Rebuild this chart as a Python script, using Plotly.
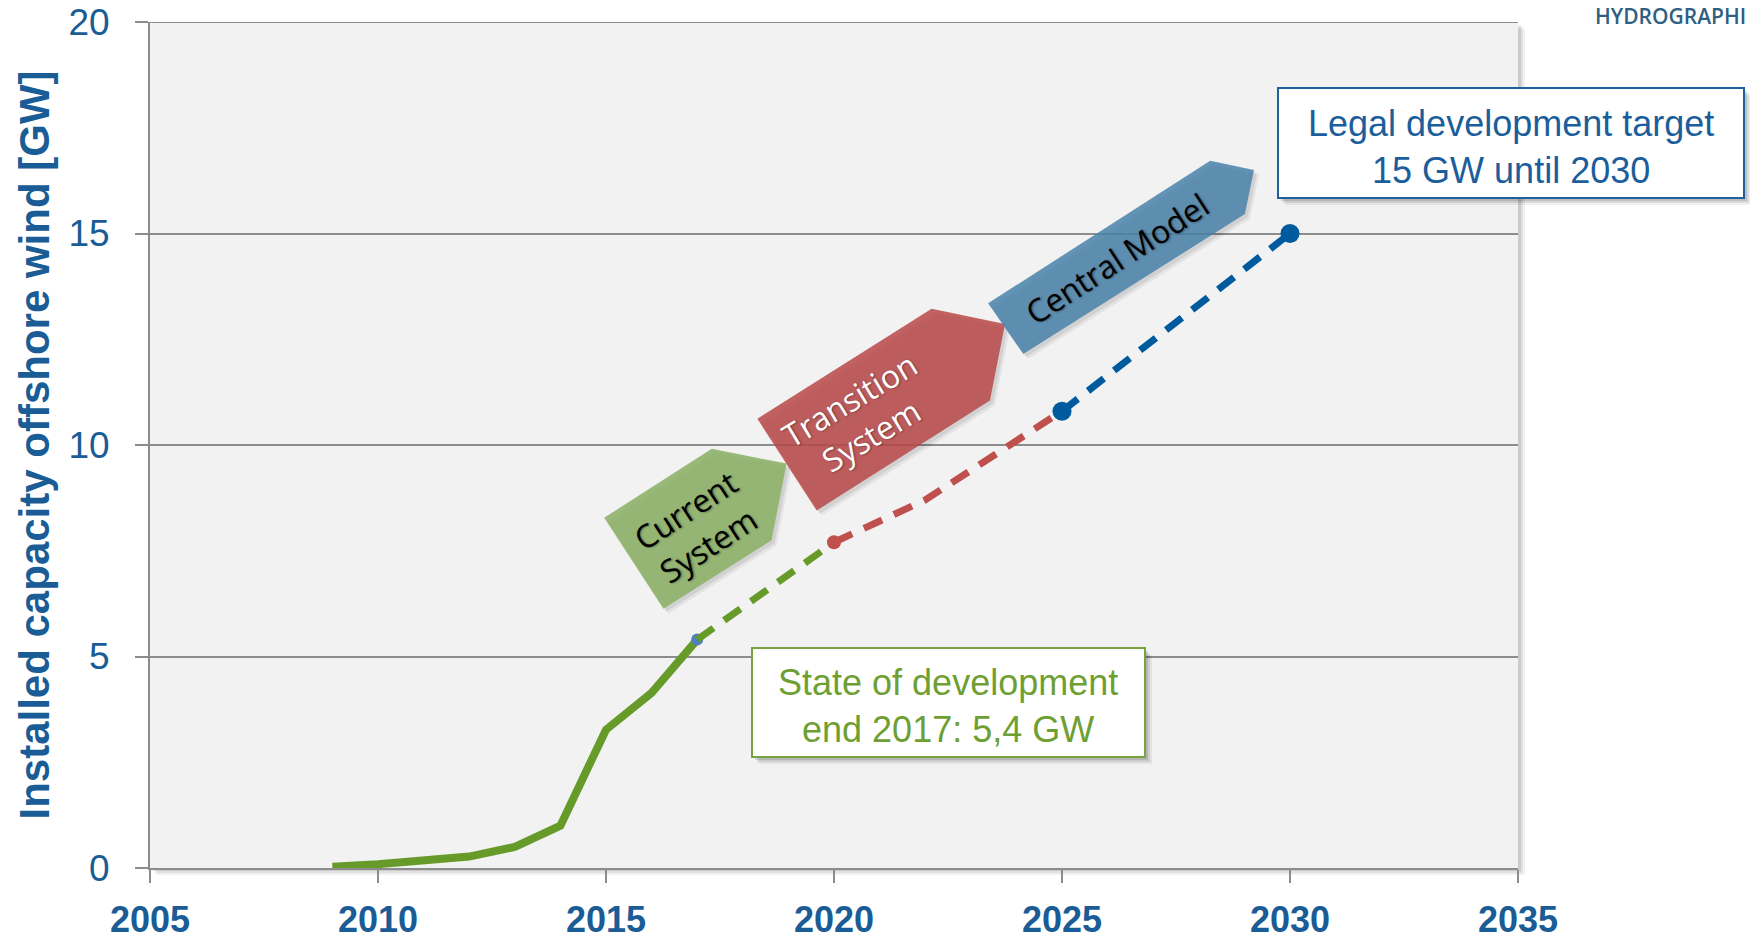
import plotly.graph_objects as go

# ---------------- data ----------------
years_actual = [2009, 2010, 2012, 2013, 2014, 2015, 2016, 2017]
gw_actual = [0.03, 0.09, 0.27, 0.50, 1.00, 3.27, 4.14, 5.40]

years_current = [2017, 2020]
gw_current = [5.40, 7.70]

years_transition = [2020, 2022, 2025]
gw_transition = [7.70, 8.70, 10.80]

years_central = [2025, 2030]
gw_central = [10.80, 15.00]

x_ticks = [2005, 2010, 2015, 2020, 2025, 2030, 2035]
y_ticks = [0, 5, 10, 15, 20]

# arrow-shaped labels (vertices in year / GW units)
arrow_current = [(2014.96, 8.28), (2017.32, 9.91), (2018.96, 9.56), (2018.63, 7.75), (2016.26, 6.13)]
arrow_transition = [(2018.32, 10.62), (2022.14, 13.22), (2023.75, 12.86), (2023.42, 11.05), (2019.62, 8.45)]
arrow_central = [(2023.38, 13.35), (2028.25, 16.72), (2029.21, 16.50), (2029.01, 15.46), (2024.15, 12.15)]

# ---------------- geometry ----------------
W, H = 1750, 942
ML, MR, MT, MB = 150, 232, 22, 74
PW, PH = W - ML - MR, H - MT - MB
X_RANGE = [2005, 2035]
Y_RANGE = [0, 20]
PX_PER_YEAR = PW / (X_RANGE[1] - X_RANGE[0])
PX_PER_GW = PH / (Y_RANGE[1] - Y_RANGE[0])


def px_x(px):
    return (px - ML) / PW


def px_y(py):
    return (H - MB - py) / PH


BLUE_TXT = "#1A5C96"
GRID = "#8C8C8C"

fig = go.Figure()

fig.add_trace(go.Scatter(x=years_actual, y=gw_actual, mode="lines",
                         line=dict(color="#679B29", width=8), hoverinfo="skip"))
fig.add_trace(go.Scatter(x=[years_actual[-1]], y=[gw_actual[-1]], mode="markers",
                         marker=dict(color="#4F81BD", size=12), hoverinfo="skip"))
fig.add_trace(go.Scatter(x=years_current, y=gw_current, mode="lines",
                         line=dict(color="#679B29", width=7, dash="20px,13px"), hoverinfo="skip"))
fig.add_trace(go.Scatter(x=years_transition, y=gw_transition, mode="lines",
                         line=dict(color="#C0504D", width=7, dash="20px,13px"), hoverinfo="skip"))
fig.add_trace(go.Scatter(x=[years_transition[0]], y=[gw_transition[0]], mode="markers",
                         marker=dict(color="#C0504D", size=14), hoverinfo="skip"))
fig.add_trace(go.Scatter(x=years_central, y=gw_central, mode="lines+markers",
                         line=dict(color="#005A9E", width=7, dash="20px,13px"),
                         marker=dict(color="#005A9E", size=19), hoverinfo="skip"))

shapes = []

# plot area shadow + background
for off, a in [(7, 0.05), (5, 0.07), (3, 0.09)]:
    shapes.append(dict(type="rect", xref="paper", yref="paper", layer="below",
                       x0=px_x(ML + off), x1=px_x(ML + PW + off),
                       y0=px_y(MT + off), y1=px_y(MT + PH + off),
                       line=dict(width=0), fillcolor=f"rgba(0,0,0,{a})"))
shapes.append(dict(type="rect", xref="paper", yref="paper", layer="below",
                   x0=0, x1=1, y0=0, y1=1, line=dict(width=0), fillcolor="#F2F2F2"))
# top gridline at 20 GW (plotly drops the grid line at the range edge)
shapes.append(dict(type="line", xref="paper", yref="y", layer="below",
                   x0=0, x1=1, y0=Y_RANGE[1], y1=Y_RANGE[1], line=dict(color=GRID, width=2)))


def poly_path(pts, dx=0.0, dy=0.0):
    s = "M " + " L ".join(f"{x + dx},{y + dy}" for x, y in pts) + " Z"
    return s


for pts, col in [(arrow_current, "rgba(139,177,101,0.88)"),
                 (arrow_transition, "rgba(185,72,72,0.85)"),
                 (arrow_central, "rgba(73,129,169,0.85)")]:
    for off, a in [(5, 0.06), (3, 0.08)]:
        shapes.append(dict(type="path", xref="x", yref="y", layer="above",
                           path=poly_path(pts, off / PX_PER_YEAR, -off / PX_PER_GW),
                           line=dict(width=0), fillcolor=f"rgba(0,0,0,{a})"))
    shapes.append(dict(type="path", xref="x", yref="y", layer="above",
                       path=poly_path(pts), line=dict(width=0), fillcolor=col))


def box(x0, y0, x1, y1, border):
    out = []
    for off, a in [(7, 0.06), (5, 0.09), (3, 0.12)]:
        out.append(dict(type="rect", xref="paper", yref="paper", layer="above",
                        x0=px_x(x0 + off), x1=px_x(x1 + off), y0=px_y(y1 + off), y1=px_y(y0 + off),
                        line=dict(width=0), fillcolor=f"rgba(0,0,0,{a})"))
    out.append(dict(type="rect", xref="paper", yref="paper", layer="above",
                    x0=px_x(x0), x1=px_x(x1), y0=px_y(y1), y1=px_y(y0),
                    line=dict(color=border, width=2), fillcolor="white"))
    return out


shapes += box(1278, 88, 1744, 198, "#1F5F9B")
shapes += box(752, 648, 1145, 757, "#79A33D")

annotations = [
    dict(xref="paper", yref="paper", x=px_x(1511), y=px_y(147),
         text="Legal development target<br>15 GW until 2030", showarrow=False,
         font=dict(family="Liberation Sans, Arial", size=36, color="#1B5E9B"),
         xanchor="center", yanchor="middle"),
    dict(xref="paper", yref="paper", x=px_x(948), y=px_y(706),
         text="State of development<br>end 2017: 5,4 GW", showarrow=False,
         font=dict(family="Liberation Sans, Arial", size=36, color="#6E9F32"),
         xanchor="center", yanchor="middle"),
    dict(xref="x", yref="y", x=2016.99, y=8.06, text="Current<br>System", showarrow=False,
         textangle=-33, font=dict(family="Open Sans", size=32, color="black",
                                  shadow="1px 1px 2px rgba(0,0,0,0.35)"),
         xanchor="center", yanchor="middle"),
    dict(xref="x", yref="y", x=2020.57, y=10.66, text="Transition<br>System", showarrow=False,
         textangle=-31, font=dict(family="Open Sans", size=32, color="white",
                                  shadow="1px 1px 2px rgba(0,0,0,0.35)"),
         xanchor="center", yanchor="middle"),
    dict(xref="x", yref="y", x=2026.2, y=14.4, text="Central Model", showarrow=False,
         textangle=-33, font=dict(family="Open Sans", size=32, color="black",
                                  shadow="1px 1px 2px rgba(0,0,0,0.35)"),
         xanchor="center", yanchor="middle"),
    dict(xref="paper", yref="paper", x=px_x(1748), y=px_y(16),
         text="HYDROGRAPHI", showarrow=False,
         font=dict(family="Open Sans", size=21, color="#2F5F82", weight=600),
         xanchor="right", yanchor="middle"),
]

fig.update_layout(
    width=W, height=H, autosize=False,
    margin=dict(l=ML, r=MR, t=MT, b=MB, pad=0),
    paper_bgcolor="white", plot_bgcolor="rgba(0,0,0,0)",
    showlegend=False,
    shapes=shapes, annotations=annotations,
    xaxis=dict(range=X_RANGE, tickvals=x_ticks, ticktext=[str(v) for v in x_ticks],
               showgrid=False, zeroline=False, showline=True, linecolor=GRID, linewidth=2,
               ticks="outside", ticklen=13, tickwidth=2, tickcolor=GRID,
               tickfont=dict(family="Liberation Sans, Arial", size=36, color=BLUE_TXT, weight="bold"),
               ticklabelstandoff=6, automargin=False, ticklabeloverflow="allow"),
    yaxis=dict(range=Y_RANGE, tickvals=y_ticks,
               showgrid=True, gridcolor=GRID, gridwidth=2, zeroline=False,
               showline=True, linecolor=GRID, linewidth=2,
               ticks="outside", ticklen=13, tickwidth=2, tickcolor=GRID,
               tickfont=dict(family="Liberation Sans, Arial", size=37, color=BLUE_TXT),
               ticklabelstandoff=18, automargin=False, ticklabeloverflow="allow",
               title=dict(text="Installed capacity offshore wind [GW]", standoff=6,
                          font=dict(family="Liberation Sans, Arial", size=42,
                                    color=BLUE_TXT, weight="bold"))),
)

fig.write_html("out.html")
